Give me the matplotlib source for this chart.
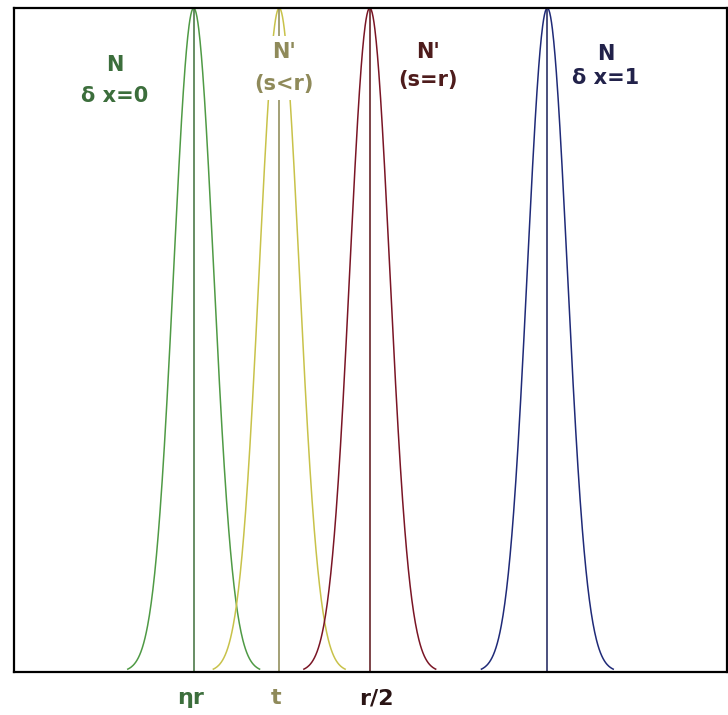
import numpy as np
import matplotlib
matplotlib.use("Agg")
import matplotlib.pyplot as plt

# centres of the four distributions (axis runs 0..100)
centres = [25.2, 37.2, 49.9, 74.8]
sigma = 2.8
curve_colors = ["#4f9a45", "#c8c24a", "#7a1525", "#1f2a78"]
line_colors = ["#3f6f3a", "#8a8650", "#5a1218", "#1a1f5a"]

label_top = ["N", "N'", "N'", "N"]
label_bottom = ["δ x=0", "(s<r)", "(s=r)", "δ x=1"]
label_colors = ["#3c6e3c", "#8f8a5a", "#4e1c1c", "#22224a"]

tick_names = ["ηr", "t", "r/2"]
tick_colors = ["#3c6e3c", "#8f8a5a", "#2a1414"]

fig = plt.figure(figsize=(7.28, 7.15), dpi=100)
ax = fig.add_axes([14 / 728, 43 / 715, 713 / 728, 664 / 715])


def px(xp, yp):
    # pixel position in the picture -> data coordinates
    return (xp - 14) / 7.13, (672 - yp) / 664


for c, cc, lc in zip(centres, curve_colors, line_colors):
    x = np.linspace(c - 3.3 * sigma, c + 3.3 * sigma, 300)
    y = np.exp(-((x - c) ** 2) / (2 * sigma ** 2))
    ax.plot(x, y, color=cc, lw=1.1, zorder=1)
    ax.plot([c, c], [0, 1], color=lc, lw=1.1, zorder=1)

# label placement (pixels): x, y of top line, y of bottom line
label_pos = [(115, 65, 96), (284, 52, 84), (428, 52, 80), (606, 54, 78)]
box = dict(facecolor="white", edgecolor="none", pad=4)
for t1, t2, col, (xp, y1, y2) in zip(label_top, label_bottom, label_colors, label_pos):
    ax.text(*px(xp, y1), t1, color=col, fontsize=15, fontweight="bold",
            ha="center", va="center", bbox=box, zorder=3)
    ax.text(*px(xp, y2), t2, color=col, fontsize=15, fontweight="bold",
            ha="center", va="center", bbox=box, zorder=3)

tick_px = [191, 276, 376]
for name, xp, col in zip(tick_names, tick_px, tick_colors):
    ax.text(*px(xp, 698), name, color=col, fontsize=16, fontweight="bold",
            ha="center", va="center", clip_on=False)

ax.set_xlim(0, 100)
ax.set_ylim(0, 1)
ax.set_xticks([])
ax.set_yticks([])
for s in ax.spines.values():
    s.set_linewidth(1.6)
    s.set_color("black")

fig.savefig("out.png", dpi=100)
